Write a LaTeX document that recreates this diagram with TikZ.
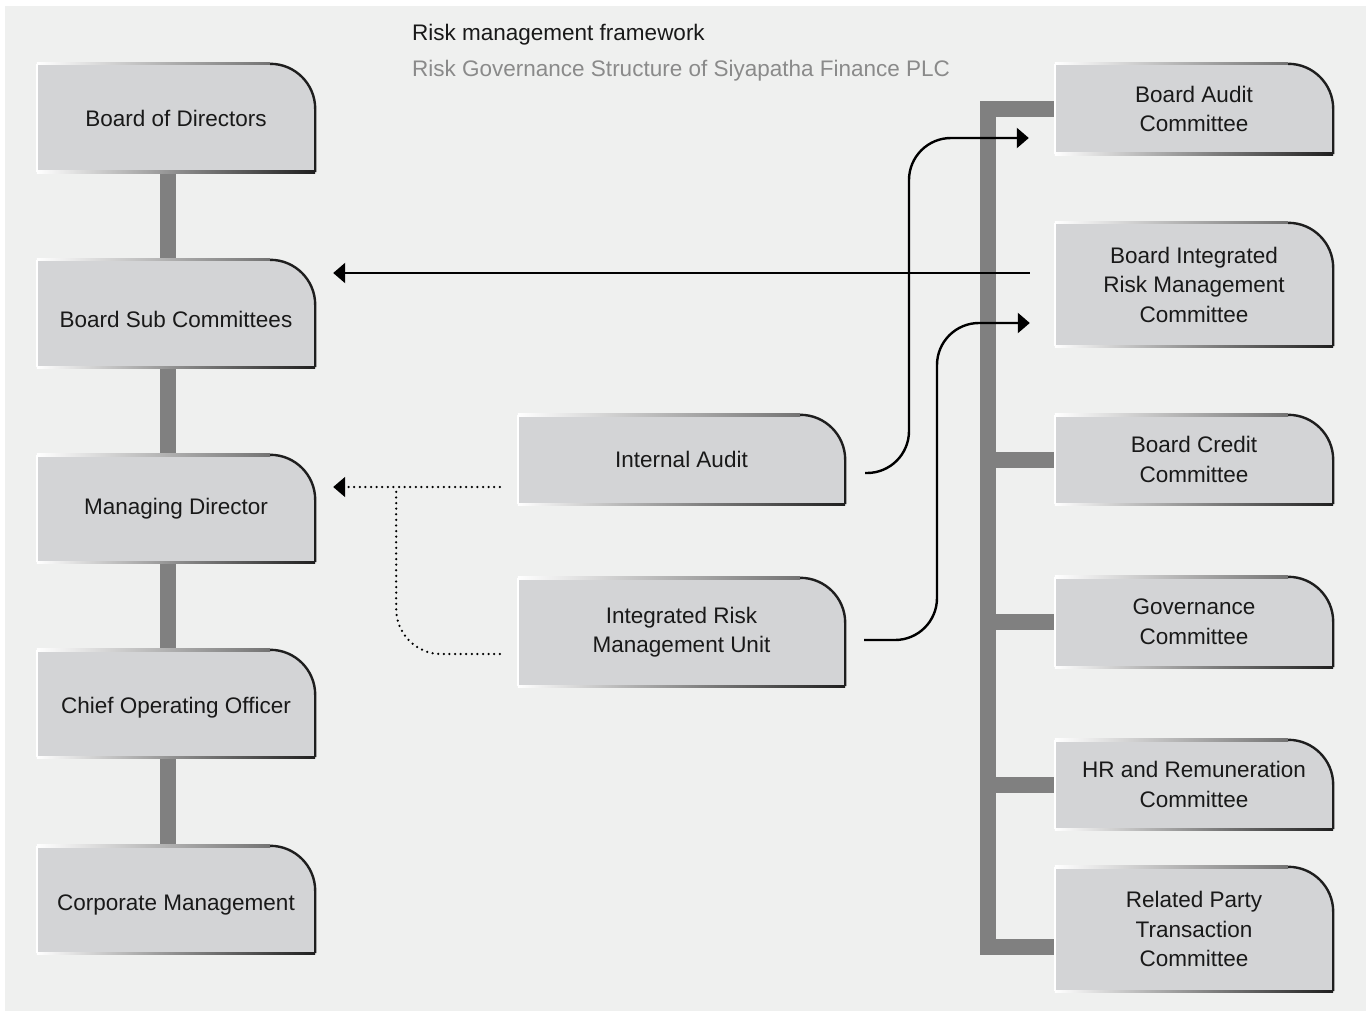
\documentclass[tikz,border=0pt]{standalone}
\usepackage{fontspec}
\setmainfont{Liberation Sans}
\usetikzlibrary{arrows.meta,backgrounds,calc}

\definecolor{pagebg}{HTML}{EFF0EF}
\definecolor{boxfill}{HTML}{D3D4D6}
\definecolor{barcol}{HTML}{808080}
\definecolor{edgedark}{HTML}{1E1E1E}
\definecolor{subtitle}{HTML}{8A8A8A}

\tikzset{
  orgbox/.style={inner sep=0pt, align=center, text=black!90,
    font=\fontsize{22.5}{29.5}\selectfont},
  wide/.style={minimum width=278pt},
  barline/.style={draw=barcol, line width=16pt, line join=miter},
  flow/.style={draw=black, line width=2.4pt, -{Triangle[length=12pt,width=20pt]}},
  dotflow/.style={draw=black, line width=2.5pt, line cap=round,
    dash pattern=on 0pt off 5.6pt},
  heading/.style={anchor=west, inner sep=0pt, font=\fontsize{22.5}{27}\selectfont}
}

% Box with a large rounded top-right corner, light top/left edges and dark right/bottom edges
\newcommand\orgshape[1]{%
  \fill[boxfill] (#1.south west) -- (#1.north west) -- ([xshift=-45pt]#1.north east)
    arc[start angle=90,end angle=0,radius=45pt] -- (#1.south east) -- cycle;
  \shade[left color=white, right color=black!55]
    ([yshift=-1.2pt]#1.north west) rectangle ([xshift=-45pt,yshift=1.2pt]#1.north east);
  \shade[left color=white, right color=edgedark]
    ([yshift=-1.2pt]#1.south west) rectangle ([yshift=1.2pt]#1.south east);
  \draw[white, line width=2.4pt] (#1.south west) -- (#1.north west);
  \draw[edgedark, line width=2.4pt] ([xshift=-45pt]#1.north east)
    arc[start angle=90,end angle=0,radius=45pt] -- (#1.south east);
}

\begin{document}
\begin{tikzpicture}[x=1pt,y=-1pt]
\useasboundingbox (0,0) rectangle (1371,1011);

% Headings
\node[heading, text=black!90] (head) at (412,35) {Risk management framework};
\node[heading, text=subtitle] (sub) at (412,71) {Risk Governance Structure of Siyapatha Finance PLC};

% Management line
\node[orgbox, wide, minimum height=108pt] (bod) at (176,118) {Board of Directors};
\node[orgbox, wide, minimum height=107pt] (bsc) at (176,313.5) {\raisebox{-14pt}[0pt][0pt]{Board Sub Committees}};
\node[orgbox, wide, minimum height=107pt] (md) at (176,508.5) {Managing Director};
\node[orgbox, wide, minimum height=107pt] (coo) at (176,703.5) {\raisebox{-10pt}[0pt][0pt]{Chief Operating Officer}};
\node[orgbox, wide, minimum height=107pt] (cm) at (176,899.5) {\raisebox{-11pt}[0pt][0pt]{Corporate Management}};

% Control functions
\node[orgbox, minimum width=327pt, minimum height=89pt] (ia) at (681.5,459.5) {Internal Audit};
\node[orgbox, minimum width=327pt, minimum height=108pt] (irmu) at (681.5,632) {Integrated Risk\\Management Unit};

% Board committees
\node[orgbox, wide, minimum height=90pt] (bac) at (1194,109) {Board Audit\\Committee};
\node[orgbox, wide, minimum height=123pt] (birmc) at (1194,284.5) {Board Integrated\\Risk Management\\Committee};
\node[orgbox, wide, minimum height=89pt] (bcc) at (1194,459.5) {Board Credit\\Committee};
\node[orgbox, wide, minimum height=90pt] (gc) at (1194,622) {Governance\\Committee};
\node[orgbox, wide, minimum height=89pt] (hr) at (1194,784.5) {HR and Remuneration\\Committee};
\node[orgbox, wide, minimum height=124pt] (rpt) at (1194,929) {Related Party\\Transaction\\Committee};

\begin{scope}[on background layer]
  \fill[white] (0,0) rectangle (1371,1011);
  \fill[pagebg] (5,6) rectangle (1366,1011);

  % vertical chain on the left
  \foreach \a/\b in {bod/bsc, bsc/md, md/coo, coo/cm}
    {\draw[barline] ([xshift=-8pt]\a.south) -- ([xshift=-8pt]\b.north);}

  % committee bus on the right
  \coordinate (barbot) at ($(rpt.west)+(-67,18)$);
  \draw[barline] (bac.west) -| (barbot) -- (barbot -| rpt.west);
  \foreach \n in {bcc, gc, hr}
    {\draw[barline] (\n.west -| barbot) -- (\n.west);}

  \foreach \n in {bod,bsc,md,coo,cm,ia,irmu,bac,birmc,bcc,gc,hr,rpt}
    {\orgshape{\n}}
\end{scope}

% Connector end points
\coordinate (birmcout) at ($(birmc.west)+(-25,-11.5)$);
\coordinate (bscin)    at ($(bsc.east)+(18,-40.5)$);
\coordinate (iaout)    at ($(ia.east)+(20,13.5)$);
\coordinate (bacin)    at ($(bac.west)+(-26,29)$);
\coordinate (irmuout)  at ($(irmu.east)+(19,8)$);
\coordinate (birmcin)  at ($(birmc.west)+(-25,38.5)$);
\coordinate (mdin)     at ($(md.east)+(18,-21.5)$);
\coordinate (iaoutl)   at ($(ia.west)+(-18,27.5)$);
\coordinate (irmuoutl) at ($(irmu.west)+(-18,22)$);
\coordinate (dotjoin)  at ($(mdin)+(63,0)$);

% Reporting lines
\draw[flow] (birmcout) -- (bscin);
\draw[flow, rounded corners=42pt] (iaout) -| (bacin -| 909,0) -- (bacin);
\draw[flow, rounded corners=42pt] (irmuout) -| (birmcin -| 937,0) -- (birmcin);

% Administrative (dotted) reporting lines
\draw[dotflow] (iaoutl) -- (mdin);
\draw[-{Triangle[length=12pt,width=20pt]}, line width=2pt] ($(mdin)+(2,0)$) -- (mdin);
\draw[dotflow, rounded corners=45pt] (irmuoutl) -| (dotjoin);
\end{tikzpicture}
\end{document}
